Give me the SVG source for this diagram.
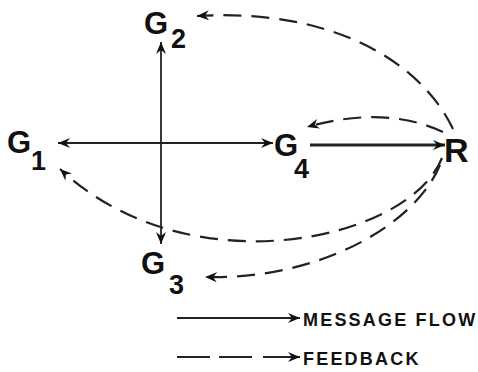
<svg xmlns="http://www.w3.org/2000/svg" width="478" height="372" viewBox="0 0 478 372">
<defs>
<style>
.lbl{font-family:"Liberation Sans",Arial,sans-serif;font-weight:bold;fill:#111}
.g{font-size:31px}
.sub{font-size:27px}
.leg{font-size:18px;letter-spacing:2.2px}
.solid{fill:none;stroke:#222;stroke-width:1.8}
.thick{fill:none;stroke:#222;stroke-width:3.2}
.dash{fill:none;stroke:#222;stroke-width:2.2;stroke-dasharray:18 10}
</style>
<marker id="ah" viewBox="0 0 12 10" refX="12" refY="5" markerWidth="12" markerHeight="10" markerUnits="userSpaceOnUse" orient="auto-start-reverse">
<path d="M0,0 L12,5 L0,10 L4,5 z" fill="#111"/>
</marker>
</defs>
<rect width="478" height="372" fill="#fff"/>
<g id="connectors">
<path class="solid" d="M161,244 L161,42" marker-start="url(#ah)" marker-end="url(#ah)"/>
<path class="solid" d="M58,143 L273,143" marker-start="url(#ah)" marker-end="url(#ah)"/>
<path class="thick" d="M310,145 L445,145" marker-end="url(#ah)"/>
<path class="dash" d="M453,129 C420,60 330,8 197,16" marker-end="url(#ah)"/>
<path class="dash" d="M443,132 Q385,105 307,127" marker-end="url(#ah)"/>
<path class="dash" d="M442,158 C410,240 190,290 60,169" marker-end="url(#ah)"/>
<path class="dash" d="M440,165 C415,225 320,280 205,277" marker-end="url(#ah)"/>
</g>
<g id="G2"><text class="lbl g" x="144" y="34">G</text><text class="lbl sub" x="171" y="48">2</text></g>
<g id="G1"><text class="lbl g" x="7" y="153">G</text><text class="lbl sub" x="31" y="170">1</text></g>
<g id="G4"><text class="lbl g" x="274" y="156">G</text><text class="lbl sub" x="294" y="178">4</text></g>
<g id="G3"><text class="lbl g" x="141" y="274">G</text><text class="lbl sub" x="169" y="294">3</text></g>
<g id="R"><text class="lbl" style="font-size:34px" x="444" y="162">R</text></g>
<g id="legend">
<path class="solid" d="M177,318 L300,318" marker-end="url(#ah)"/>
<text class="lbl leg" x="303" y="326">MESSAGE FLOW</text>
<path class="solid" d="M177,357 L210,357 M219,357 L252,357 M263,357 L300,357" marker-end="url(#ah)"/>
<text class="lbl leg" x="303" y="365">FEEDBACK</text>
</g>
</svg>
